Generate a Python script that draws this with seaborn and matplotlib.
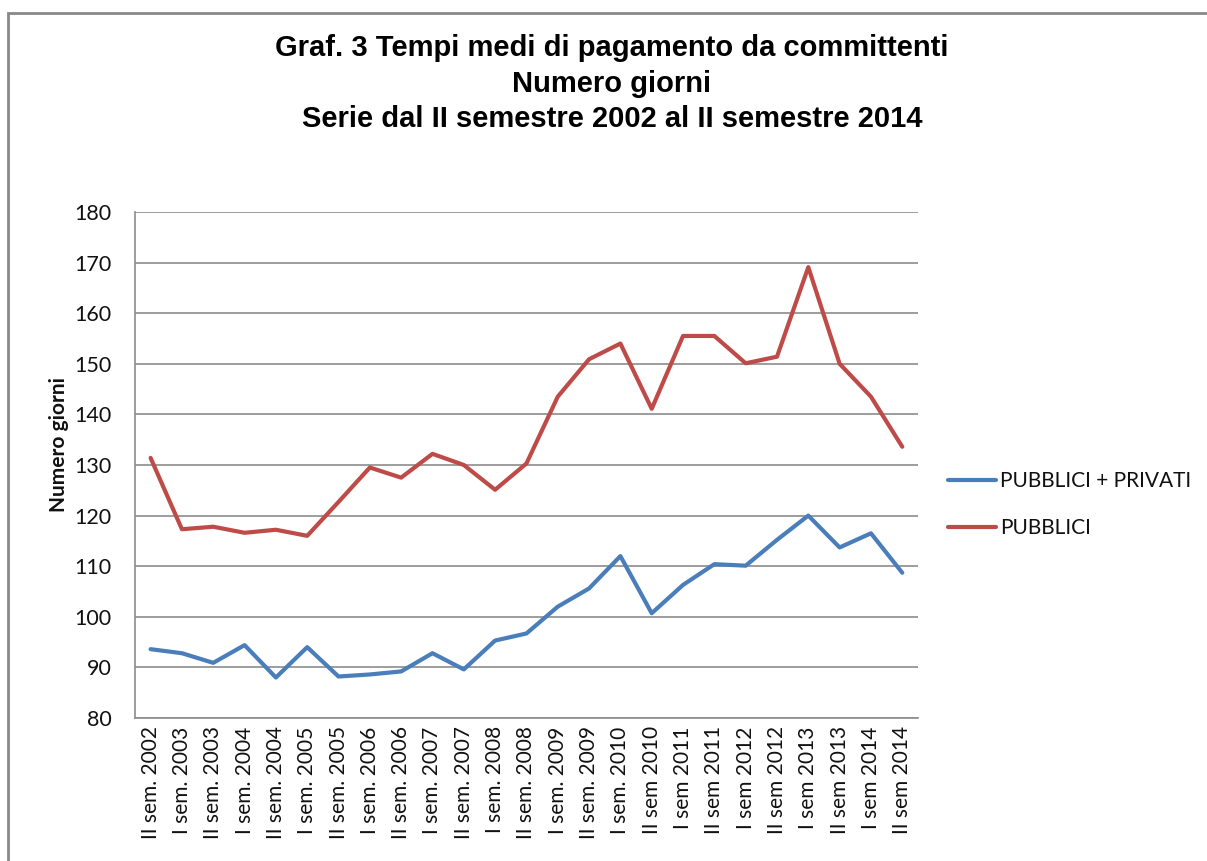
import pandas as pd
import seaborn as sns
import matplotlib.pyplot as plt
from matplotlib.patches import Rectangle

# Data
periods = [
    "II sem. 2002", "I sem. 2003", "II sem. 2003", "I sem. 2004", "II sem. 2004",
    "I sem. 2005", "II sem. 2005", "I sem. 2006", "II sem. 2006", "I sem. 2007",
    "II sem. 2007", "I sem. 2008", "II sem. 2008", "I sem. 2009", "II sem. 2009",
    "I sem. 2010", "II sem 2010", "I sem 2011", "II sem 2011", "I sem 2012",
    "II sem 2012", "I sem 2013", "II sem 2013", "I sem 2014", "II sem 2014",
]
pubblici_privati = [
    93.6, 92.8, 90.9, 94.4, 88.0, 94.0, 88.2, 88.6, 89.2, 92.8, 89.6, 95.3,
    96.7, 102.0, 105.6, 112.0, 100.7, 106.3, 110.4, 110.1, 115.2, 120.0,
    113.7, 116.5, 108.7,
]
pubblici = [
    131.4, 117.3, 117.8, 116.6, 117.2, 116.0, 122.7, 129.5, 127.5, 132.2,
    130.0, 125.1, 130.3, 143.5, 150.9, 154.0, 141.1, 155.5, 155.5, 150.1,
    151.4, 169.1, 150.0, 143.5, 133.6,
]
series_names = ["PUBBLICI + PRIVATI", "PUBBLICI"]
colors = ["#4A7EBB", "#BE4B48"]

df = pd.DataFrame({
    "idx": list(range(len(periods))) * 2,
    "giorni": pubblici_privati + pubblici,
    "serie": [series_names[0]] * len(periods) + [series_names[1]] * len(periods),
})

sns.set_style("white")
plt.rcParams["font.family"] = ["Lato", "DejaVu Sans"]
plt.rcParams["text.color"] = "#111111"
plt.rcParams["xtick.color"] = "#111111"
plt.rcParams["ytick.color"] = "#111111"
plt.rcParams["axes.labelcolor"] = "#111111"

fig = plt.figure(figsize=(12.07, 8.61), dpi=100)
ax = fig.add_axes([0.1118, 0.1661, 0.6487, 0.5877])

sns.lineplot(data=df, x="idx", y="giorni", hue="serie", palette=colors,
             linewidth=3, ax=ax, legend=True)

ax.set_xlim(-0.5, len(periods) - 0.5)
ax.set_ylim(80, 180)
ax.set_yticks(range(80, 181, 10))
ax.set_xticks(range(len(periods)))
ax.set_xticklabels(periods, rotation=90, fontsize=15)
ax.tick_params(axis="y", labelsize=15.5, length=0, pad=17)
ax.tick_params(axis="x", length=0, pad=6)
ax.yaxis.grid(True, color="#8c8c8c", linewidth=1.2)
ax.xaxis.grid(False)
for side in ["top", "right"]:
    ax.spines[side].set_visible(False)
for side in ["left", "bottom"]:
    ax.spines[side].set_color("#8c8c8c")
    ax.spines[side].set_linewidth(1.2)

ax.set_xlabel("")
ax.set_ylabel("Numero giorni", fontsize=15, fontweight="bold")
ax.yaxis.set_label_coords(-0.084, 0.54)

handles, labels = ax.get_legend_handles_labels()
ax.legend(handles, labels, loc="center left", bbox_to_anchor=(0.770, 0.414),
          bbox_transform=fig.transFigure, frameon=False, fontsize=15,
          handlelength=2.3, handletextpad=0.2, labelspacing=1.3)

fig.text(0.507, 0.903,
         "Graf. 3 Tempi medi di pagamento da committenti\nNumero giorni\n"
         "Serie dal II semestre 2002 al II semestre 2014",
         ha="center", va="center", fontsize=21, fontweight="bold",
         color="black", family=["Liberation Sans", "DejaVu Sans"],
         linespacing=1.33)

# outer chart border
fig.patches.append(Rectangle((8 / 1207, -0.05), 1.1, 1 - 13 / 861 + 0.05,
                             transform=fig.transFigure, fill=False,
                             edgecolor="#888888", linewidth=2))

fig.savefig("out.png", dpi=100)
